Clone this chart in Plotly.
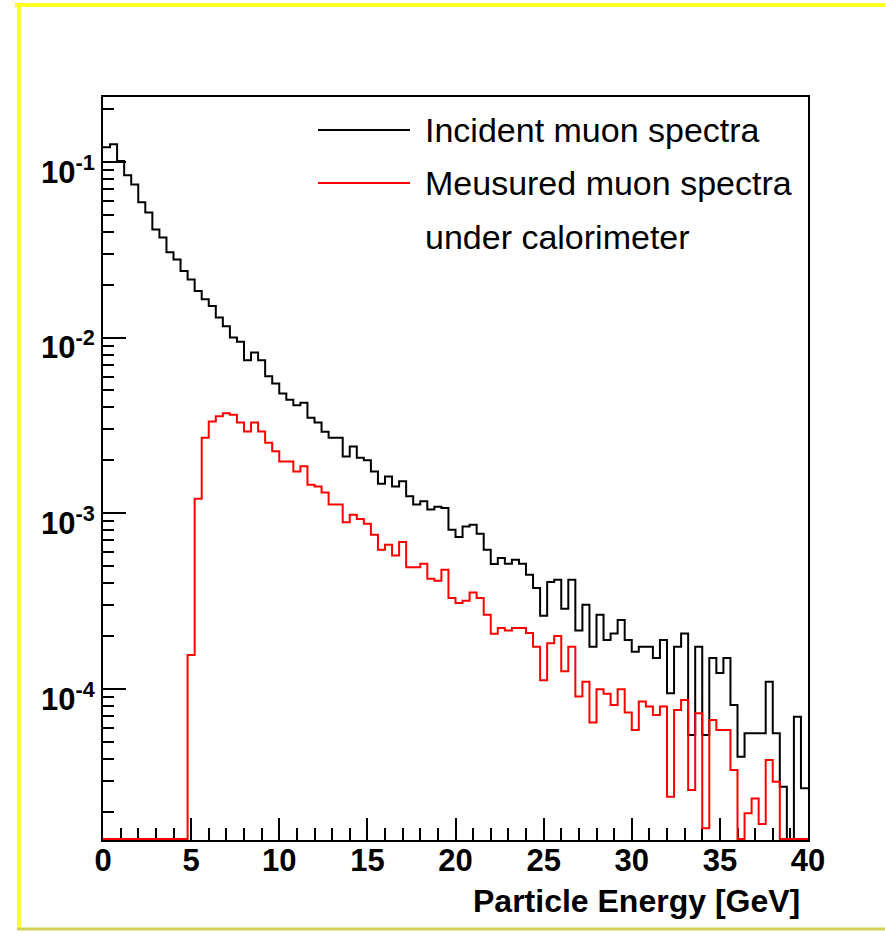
import math
import plotly.graph_objects as go

# Energy binning: 100 bins of 0.4 GeV from 0 to 40 GeV
bin_width = 0.4
n_bins = 100
edges = [round(i * bin_width, 2) for i in range(n_bins + 1)]

# Incident muon spectrum (normalised counts per bin)
incident = [
    0.121, 0.126, 0.101, 0.0838, 0.0744, 0.0588, 0.0515, 0.0412, 0.0371, 0.0306,
    0.0278, 0.0239, 0.0214, 0.0184, 0.0165, 0.0151, 0.0130, 0.0116, 0.0100, 0.00945,
    0.00743, 0.00822, 0.00743, 0.00601, 0.00548, 0.0048, 0.00443, 0.00411, 0.00426, 0.0035,
    0.00328, 0.00291, 0.00269, 0.00269, 0.0021, 0.0024, 0.00207, 0.0020, 0.00173, 0.00147,
    0.00162, 0.00142, 0.00152, 0.00125, 0.00112, 0.00117, 0.00105, 0.00109, 0.00107, 0.000805,
    0.000731, 0.000841, 0.00086, 0.000764, 0.000619, 0.000514, 0.000556, 0.000515, 0.000543, 0.000515,
    0.000446, 0.000375, 0.000261, 0.000406, 0.000418, 0.000286, 0.000418, 0.000215, 0.000301, 0.000174,
    0.000264, 0.00019, 0.000207, 0.000247, 0.00019, 0.000163, 0.000174, 0.000174, 0.00015, 0.00019,
    0.0000945, 0.000174, 0.000207, 0.0000547, 0.000174, 0.0000547, 0.00015, 0.000123, 0.00015, 0.000081,
    0.0000411, 0.000056, 0.000056, 0.000056, 0.00011, 0.000056, 0.0000277, 0.0, 0.0000695, 0.0000272,
]

# Muon spectrum measured under the calorimeter
measured = [
    0, 0, 0, 0, 0, 0, 0, 0, 0, 0,
    0, 0, 0.000156, 0.00121, 0.00269, 0.00333, 0.00356, 0.00371, 0.00364, 0.00328,
    0.00292, 0.00328, 0.00292, 0.00252, 0.00225, 0.00197, 0.00197, 0.00173, 0.00185, 0.00145,
    0.00142, 0.00131, 0.00112, 0.00112, 0.000887, 0.00098, 0.000927, 0.000871, 0.000754, 0.000619,
    0.000662, 0.000575, 0.000686, 0.000493, 0.000493, 0.000515, 0.000423, 0.000412, 0.000477, 0.000329,
    0.000308, 0.000318, 0.000354, 0.000329, 0.000264, 0.000206, 0.000222, 0.000215, 0.000222, 0.000222,
    0.000208, 0.000174, 0.000112, 0.000182, 0.0002, 0.000126, 0.000174, 0.0000904, 0.00011, 0.0000643,
    0.0000996, 0.0000937, 0.000081, 0.0000996, 0.0000733, 0.0000584, 0.0000847, 0.0000793, 0.0000711, 0.0000793,
    0.0000243, 0.0000759, 0.0000866, 0.0000266, 0.0000727, 0.0000161, 0.0000666, 0.0000584, 0.0000584, 0.0000345,
    0, 0.0000196, 0.0000238, 0.000017, 0.0000394, 0.0000296, 0, 0, 0, 0,
]

legend_labels = ["Incident muon spectra", "Meusured muon spectra", "under calorimeter"]
x_title = "Particle Energy [GeV]"

x_major = [0, 5, 10, 15, 20, 25, 30, 35, 40]
x_minor = [v for v in range(0, 41) if v % 5 != 0]
y_major = [1e-4, 1e-3, 1e-2, 1e-1]
y_major_text = ["10<sup>-4</sup>", "10<sup>-3</sup>", "10<sup>-2</sup>", "10<sup>-1</sup>"]

y_min_log = -4.86
y_max_log = -0.631
# empty bins are drawn along the bottom edge of the frame
y_floor = 10 ** (y_min_log + 0.006)
y_minor = [k * 10.0 ** d for d in range(-5, 0) for k in range(2, 10)
           if y_min_log <= math.log10(k * 10.0 ** d) <= y_max_log]

FONT = "Liberation Sans, Arial, Helvetica, sans-serif"


def step_points(values):
    # ROOT-style histogram outline
    ys = [v if v > 0 else y_floor for v in values]
    return edges, ys + [ys[-1]]


fig = go.Figure()
for vals, color in ((incident, "#000000"), (measured, "#ff0000")):
    xs, ys = step_points(vals)
    fig.add_trace(go.Scatter(
        x=xs, y=ys, mode="lines", line=dict(color=color, width=2, shape="hv"),
        showlegend=False, hoverinfo="skip",
    ))

# plot frame in pixels: left 103, right 808, top 97, bottom 840
W, H = 885, 934
L, R, T, B = 103, 808, 97, 840


def px(xp):
    return (xp - L) / (R - L)


def py(yp):
    return (B - yp) / (B - T)


shapes = []
# legend line samples
for yp, color in ((130, "#000000"), (183, "#ff0000")):
    shapes.append(dict(type="line", xref="paper", yref="paper",
                       x0=px(318), x1=px(410), y0=py(yp), y1=py(yp),
                       line=dict(color=color, width=2)))
# page border
shapes.append(dict(type="line", xref="paper", yref="paper",
                   x0=px(15), x1=px(886), y0=py(5), y1=py(5),
                   line=dict(color="#ffff22", width=4)))
shapes.append(dict(type="line", xref="paper", yref="paper",
                   x0=px(19), x1=px(19), y0=py(3), y1=py(930),
                   line=dict(color="#ffff22", width=4)))
shapes.append(dict(type="line", xref="paper", yref="paper",
                   x0=px(17), x1=px(886), y0=py(929), y1=py(929),
                   line=dict(color="#d2d25a", width=3)))

annotations = []
for txt, yp in zip(legend_labels, (130, 183, 237)):
    annotations.append(dict(text=txt, xref="paper", yref="paper", x=px(423), y=py(yp),
                            xanchor="left", yanchor="middle", showarrow=False,
                            font=dict(family=FONT, size=34, color="#000000")))
annotations.append(dict(text=x_title, xref="paper", yref="paper", x=px(802), y=py(901),
                        xanchor="right", yanchor="middle", showarrow=False,
                        font=dict(family=FONT, size=32, color="#000000", weight="bold")))

fig.update_layout(
    width=W, height=H, autosize=False,
    margin=dict(l=L, r=W - R, t=T, b=H - B, pad=0),
    paper_bgcolor="#ffffff", plot_bgcolor="#ffffff",
    font=dict(family=FONT, color="#000000"),
    shapes=shapes, annotations=annotations,
    xaxis=dict(
        range=[0, 40], showgrid=False, zeroline=False,
        showline=True, linecolor="#000000", linewidth=2, mirror=True,
        ticks="inside", ticklen=22, tickwidth=2, tickcolor="#000000",
        tickmode="array", tickvals=x_major, ticktext=[str(v) for v in x_major],
        tickfont=dict(family=FONT, size=31, color="#000000", weight="bold"),
        ticklabelstandoff=-8,
        minor=dict(tickmode="array", tickvals=x_minor, ticks="inside", ticklen=12,
                   tickwidth=2, tickcolor="#000000", showgrid=False),
        layer="below traces",
    ),
    yaxis=dict(
        type="log", range=[y_min_log, y_max_log], showgrid=False, zeroline=False,
        showline=True, linecolor="#000000", linewidth=2, mirror=True,
        ticks="inside", ticklen=23, tickwidth=2, tickcolor="#000000",
        tickmode="array", tickvals=y_major, ticktext=y_major_text,
        tickfont=dict(family=FONT, size=31, color="#000000", weight="bold"),
        ticklabelshift=10,
        minor=dict(tickmode="array", tickvals=y_minor, ticks="inside", ticklen=11,
                   tickwidth=2, tickcolor="#000000", showgrid=False),
        layer="below traces",
    ),
)

fig.write_html("out.html")
